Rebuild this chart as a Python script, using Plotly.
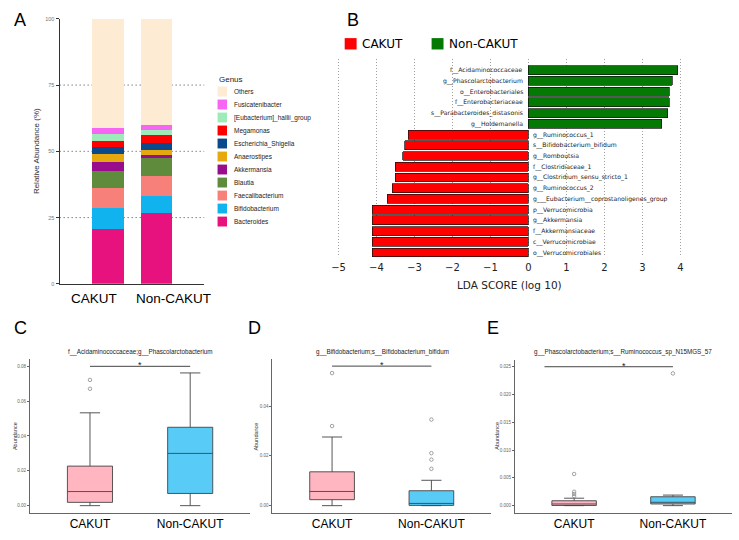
import plotly.graph_objects as go

W, H = 739, 540


def fx(p):
    return p / W


def fy(p):
    return 1 - p / H


SANS = "Liberation Sans, Arial, sans-serif"
DJV = "DejaVu Sans, sans-serif"

# ---------------- Panel A data ----------------
groups = ["CAKUT", "Non-CAKUT"]
genera = ["Bacteroides", "Bifidobacterium", "Faecalibacterium", "Blautia",
          "Akkermansia", "Anaerostipes", "Escherichia_Shigella", "Megamonas",
          "[Eubacterium]_hallii_group", "Fusicatenibacter", "Others"]
genus_colors = ["#E8127E", "#10B3EE", "#F8807A", "#5E8B3C", "#990D8C",
                "#E6A80F", "#0A4A8C", "#FF0000", "#9CEBB9", "#F765F5", "#FDEBD3"]
abund_cakut = [20.8, 7.9, 7.4, 6.4, 3.4, 3.1, 2.6, 2.4, 2.6, 2.1, 41.3]
abund_noncakut = [26.9, 6.4, 7.4, 6.6, 1.5, 1.7, 2.6, 3.1, 2.0, 1.8, 40.0]
a_ticks = [0, 25, 50, 75, 100]

# ---------------- Panel B data ----------------
lda_features = ["f__Acidaminococcaceae", "g__Phascolarctobacterium",
                "o__Enterobacteriales", "f__Enterobacteriaceae",
                "s__Parabacteroides_distasonis", "g__Holdemanella",
                "g__Ruminococcus_1", "s__Bifidobacterium_bifidum", "g__Romboutsia",
                "f__Clostridiaceae_1", "g__Clostridium_sensu_stricto_1",
                "g__Ruminococcus_2", "g___Eubacterium__coprostanoligenes_group",
                "p__Verrucomicrobia", "g__Akkermansia", "f__Akkermansiaceae",
                "c__Verrucomicrobiae", "o__Verrucomicrobiales"]
lda_scores = [3.93, 3.79, 3.70, 3.70, 3.66, 3.51,
              -3.16, -3.25, -3.31, -3.51, -3.51, -3.59, -3.72,
              -4.11, -4.11, -4.11, -4.11, -4.11]
lda_ticks = [-5, -4, -3, -2, -1, 0, 1, 2, 3, 4]
lda_groups = ["CAKUT", "Non-CAKUT"]
lda_colors = ["#FF0000", "#047A04"]

# ---------------- Panels C, D, E data ----------------
box_titles = ["f__Acidaminococcaceae;g__Phascolarctobacterium",
              "g__Bifidobacterium;s__Bifidobacterium_bifidum",
              "g__Phascolarctobacterium;s__Ruminococcus_sp_N15MGS_57"]
# [lowerfence, q1, median, q3, upperfence] per group
box_c_cakut = [0.0, 0.0019, 0.0081, 0.0227, 0.0533]
box_c_non = [0.0, 0.0070, 0.0300, 0.0450, 0.0762]
out_c_cakut = [0.0671, 0.0722]
out_c_non = []
sig_c = 0.080

box_d_cakut = [0.0, 0.0024, 0.0057, 0.0136, 0.0276]
box_d_non = [0.0, 0.0001, 0.0009, 0.0060, 0.0102]
out_d_cakut = [0.0320, 0.0533]
out_d_non = [0.0148, 0.0185, 0.0211, 0.0346]
sig_d = 0.0561

box_e_cakut = [0.0, 0.00003, 0.0003, 0.00088, 0.00134]
box_e_non = [0.0, 0.0003, 0.0006, 0.0016, 0.0019]
out_e_cakut = [0.0017, 0.0021, 0.0025, 0.0057]
out_e_non = [0.0238]
sig_e = 0.025

box_colors = ["#FFB6C1", "#58CCF7"]

fig = go.Figure()

# ---------- Panel A: stacked bars ----------
for g, col, c, n in zip(genera, genus_colors, abund_cakut, abund_noncakut):
    fig.add_trace(go.Bar(x=groups, y=[c, n], name=g, marker_color=col,
                         marker_line_width=0, width=0.66,
                         xaxis="x", yaxis="y", showlegend=False,
                         hoverinfo="skip"))

# ---------- Panel B: LDA bars ----------
fig.add_trace(go.Bar(
    x=lda_scores, y=lda_features, orientation="h",
    marker_color=[lda_colors[1] if s > 0 else lda_colors[0] for s in lda_scores],
    marker_line_color="#111111", marker_line_width=0.7, width=0.83,
    xaxis="x2", yaxis="y2", showlegend=False, hoverinfo="skip"))

# ---------- Panels C, D, E: boxplots ----------
panels = [
    ("x3", "y3", box_c_cakut, box_c_non, out_c_cakut, out_c_non, sig_c, (1, 2)),
    ("x4", "y4", box_d_cakut, box_d_non, out_d_cakut, out_d_non, sig_d, (1, 2)),
    ("x5", "y5", box_e_cakut, box_e_non, out_e_cakut, out_e_non, sig_e, (0.7, 2)),
]
for xa, ya, bc, bn, oc, on, sig, sx in panels:
    for pos, stats, outs, col in [(1, bc, oc, box_colors[0]), (2, bn, on, box_colors[1])]:
        fig.add_trace(go.Box(
            x=[pos], lowerfence=[stats[0]], q1=[stats[1]], median=[stats[2]],
            q3=[stats[3]], upperfence=[stats[4]], orientation="v",
            fillcolor=col, line=dict(color="#444444", width=0.9),
            width=0.45, whiskerwidth=0.45, boxpoints=False,
            xaxis=xa, yaxis=ya, showlegend=False, hoverinfo="skip"))
        if outs:
            fig.add_trace(go.Scatter(
                x=[pos] * len(outs), y=outs, mode="markers",
                marker=dict(symbol="circle-open", size=3.5, color="#8a8a8a",
                            line=dict(width=0.8)),
                xaxis=xa, yaxis=ya, showlegend=False, hoverinfo="skip"))
    fig.add_trace(go.Scatter(
        x=list(sx), y=[sig, sig], mode="lines",
        line=dict(color="#444444", width=1),
        xaxis=xa, yaxis=ya, showlegend=False, hoverinfo="skip"))

annotations = []
shapes = []

# Panel letters
for lab, x, y in [("A", 15, 17), ("B", 350, 17), ("C", 16, 329),
                  ("D", 251, 329), ("E", 491, 329)]:
    annotations.append(dict(text=lab, x=fx(x), y=fy(y), xref="paper", yref="paper",
                            showarrow=False, xanchor="center", yanchor="middle",
                            font=dict(family=SANS, size=18, color="black")))

# Panel A extras
for v in a_ticks[1:-1]:
    shapes.append(dict(type="line", xref="x domain", yref="y", x0=0, x1=1, y0=v, y1=v,
                       line=dict(color="#444444", width=1, dash="1px,3px"),
                       layer="below"))
for lab, x in zip(groups, [90, 170]):
    annotations.append(dict(text=lab, x=fx(x), y=fy(299), xref="paper", yref="paper",
                            showarrow=False, xanchor="center", yanchor="middle",
                            font=dict(family=SANS, size=13.5, color="black")))
annotations.append(dict(text="Relative Abundance (%)", x=fx(32), y=fy(150),
                        xref="paper", yref="paper", showarrow=False, textangle=-90,
                        xanchor="center", yanchor="middle",
                        font=dict(family=SANS, size=8, color="#333333")))
# Genus legend
annotations.append(dict(text="Genus", x=fx(213), y=fy(77), xref="paper", yref="paper",
                        showarrow=False, xanchor="left", yanchor="middle",
                        font=dict(family=SANS, size=8, color="#222222")))
for i, (g, col) in enumerate(zip(genera[::-1], genus_colors[::-1])):
    cy = 89.5 + i * 13.15
    shapes.append(dict(type="rect", xref="paper", yref="paper",
                       x0=fx(214), x1=fx(223.5), y0=fy(cy - 5), y1=fy(cy + 5),
                       fillcolor=col, line=dict(width=0)))
    annotations.append(dict(text=g, x=fx(229), y=fy(cy), xref="paper", yref="paper",
                            showarrow=False, xanchor="left", yanchor="middle",
                            font=dict(family=SANS, size=6.5, color="#222222")))

# Panel B extras
for f, s in zip(lda_features, lda_scores):
    annotations.append(dict(text=f, x=0, y=f, xref="x2", yref="y2", showarrow=False,
                            xanchor="right" if s > 0 else "left",
                            xshift=-3 if s > 0 else 3, yanchor="middle",
                            font=dict(family=DJV, size=6.1, color="#222222")))
annotations.append(dict(text="LDA SCORE (log 10)", x=fx(508), y=fy(285), xref="paper",
                        yref="paper", showarrow=False, xanchor="center", yanchor="middle",
                        font=dict(family=DJV, size=10.5, color="#222222")))
for lab, col, x0 in zip(lda_groups, lda_colors, [342, 429.5]):
    shapes.append(dict(type="rect", xref="paper", yref="paper",
                       x0=fx(x0), x1=fx(x0 + 12), y0=fy(47), y1=fy(35.5),
                       fillcolor=col, line=dict(width=0)))
    annotations.append(dict(text=lab, x=fx(x0 + 15.5), y=fy(41.5), xref="paper",
                            yref="paper", showarrow=False, xanchor="left",
                            yanchor="middle",
                            font=dict(family=DJV, size=12, color="black")))

# Box panel extras
for (xa, ya, *_r), title, tx, ax, sx in zip(
        panels, box_titles, [136, 380, 622], [10, 253, 495],
        [1.5, 1.5, 1.5]):
    annotations.append(dict(text=title, x=fx(tx), y=fy(352.5), xref="paper",
                            yref="paper", showarrow=False, xanchor="center",
                            yanchor="middle",
                            font=dict(family=SANS, size=6.3, color="#222222")))
    annotations.append(dict(text="Abundance", x=fx(ax), y=fy(438), xref="paper",
                            yref="paper", showarrow=False, textangle=-90,
                            xanchor="center", yanchor="middle",
                            font=dict(family=SANS, size=5.5, color="#333333")))
    sig = _r[4]
    annotations.append(dict(text="*", x=sx, y=sig, xref=xa, yref=ya, showarrow=False,
                            xanchor="center", yanchor="middle", yshift=1,
                            font=dict(family=SANS, size=9, color="#222222")))

box_x = dict(range=[0.4, 2.6], tickvals=[1, 2], ticktext=groups, ticks="",
             showline=True, linecolor="#666666", linewidth=1, showgrid=False,
             zeroline=False, tickfont=dict(family=SANS, size=12, color="black"))


def box_y(rng, tv, fmt):
    return dict(range=rng, tickvals=tv, tickformat=fmt, ticks="outside", ticklen=2,
                tickcolor="#666666", tickwidth=0.8, showline=True,
                linecolor="#666666", linewidth=1, showgrid=False, zeroline=False,
                tickfont=dict(family=SANS, size=4.5, color="#666666"))


fig.update_layout(
    width=W, height=H, autosize=False,
    margin=dict(l=0, r=0, t=0, b=0),
    paper_bgcolor="white", plot_bgcolor="white",
    barmode="stack", showlegend=False,
    xaxis=dict(domain=[fx(55), fx(200.5)], range=[-1.01, 1.99], showticklabels=False,
               ticks="", showline=True, linecolor="#333333", linewidth=1.2,
               showgrid=False, zeroline=False),
    yaxis=dict(domain=[fy(284), fy(16)], range=[0, 100], tickvals=a_ticks,
               ticks="outside", ticklen=3, tickcolor="#333333",
               showline=True, linecolor="#333333", linewidth=1.2, showgrid=False,
               zeroline=False, tickfont=dict(family=SANS, size=5.5, color="#777777")),
    xaxis2=dict(domain=[fx(333.1), fx(687.7)], range=[-5.07, 4.2], tickvals=lda_ticks,
                showgrid=True, gridcolor="#a0a0a0", griddash="1px,2px", gridwidth=1,
                zeroline=False, showline=False, ticks="", anchor="y2",
                ticklabelstandoff=3,
                tickfont=dict(family=DJV, size=10, color="#222222")),
    yaxis2=dict(domain=[fy(257), fy(57)], type="category",
                categoryorder="array", categoryarray=lda_features,
                range=[17.43, -1.01], showticklabels=False, showgrid=False,
                zeroline=False, showline=False, ticks="", anchor="x2"),
    xaxis3=dict(domain=[fx(25), fx(247)], anchor="y3", **box_x),
    yaxis3=dict(domain=[fy(515.7), fy(360)], anchor="x3",
                **box_y([-0.0042, 0.0842], [0, 0.02, 0.04, 0.06, 0.08], ".2f")),
    xaxis4=dict(domain=[fx(269.3), fx(489.3)], anchor="y4", **box_x),
    yaxis4=dict(domain=[fy(515.7), fy(360.4)], anchor="x4",
                **box_y([-0.00294, 0.0588], [0, 0.02, 0.04], ".2f")),
    xaxis5=dict(domain=[fx(513.3), fx(732.2)], anchor="y5", **box_x),
    yaxis5=dict(domain=[fy(515.7), fy(360.8)], anchor="x5",
                **box_y([-0.00132, 0.02625],
                        [0, 0.005, 0.01, 0.015, 0.02, 0.025], ".3f")),
    annotations=annotations,
    shapes=shapes,
)

fig.write_html(
    "out.html",
    config={"displayModeBar": False},
    post_script="document.body.style.margin='0px';document.body.style.padding='0px';"
                "document.body.style.overflow='hidden';",
)
